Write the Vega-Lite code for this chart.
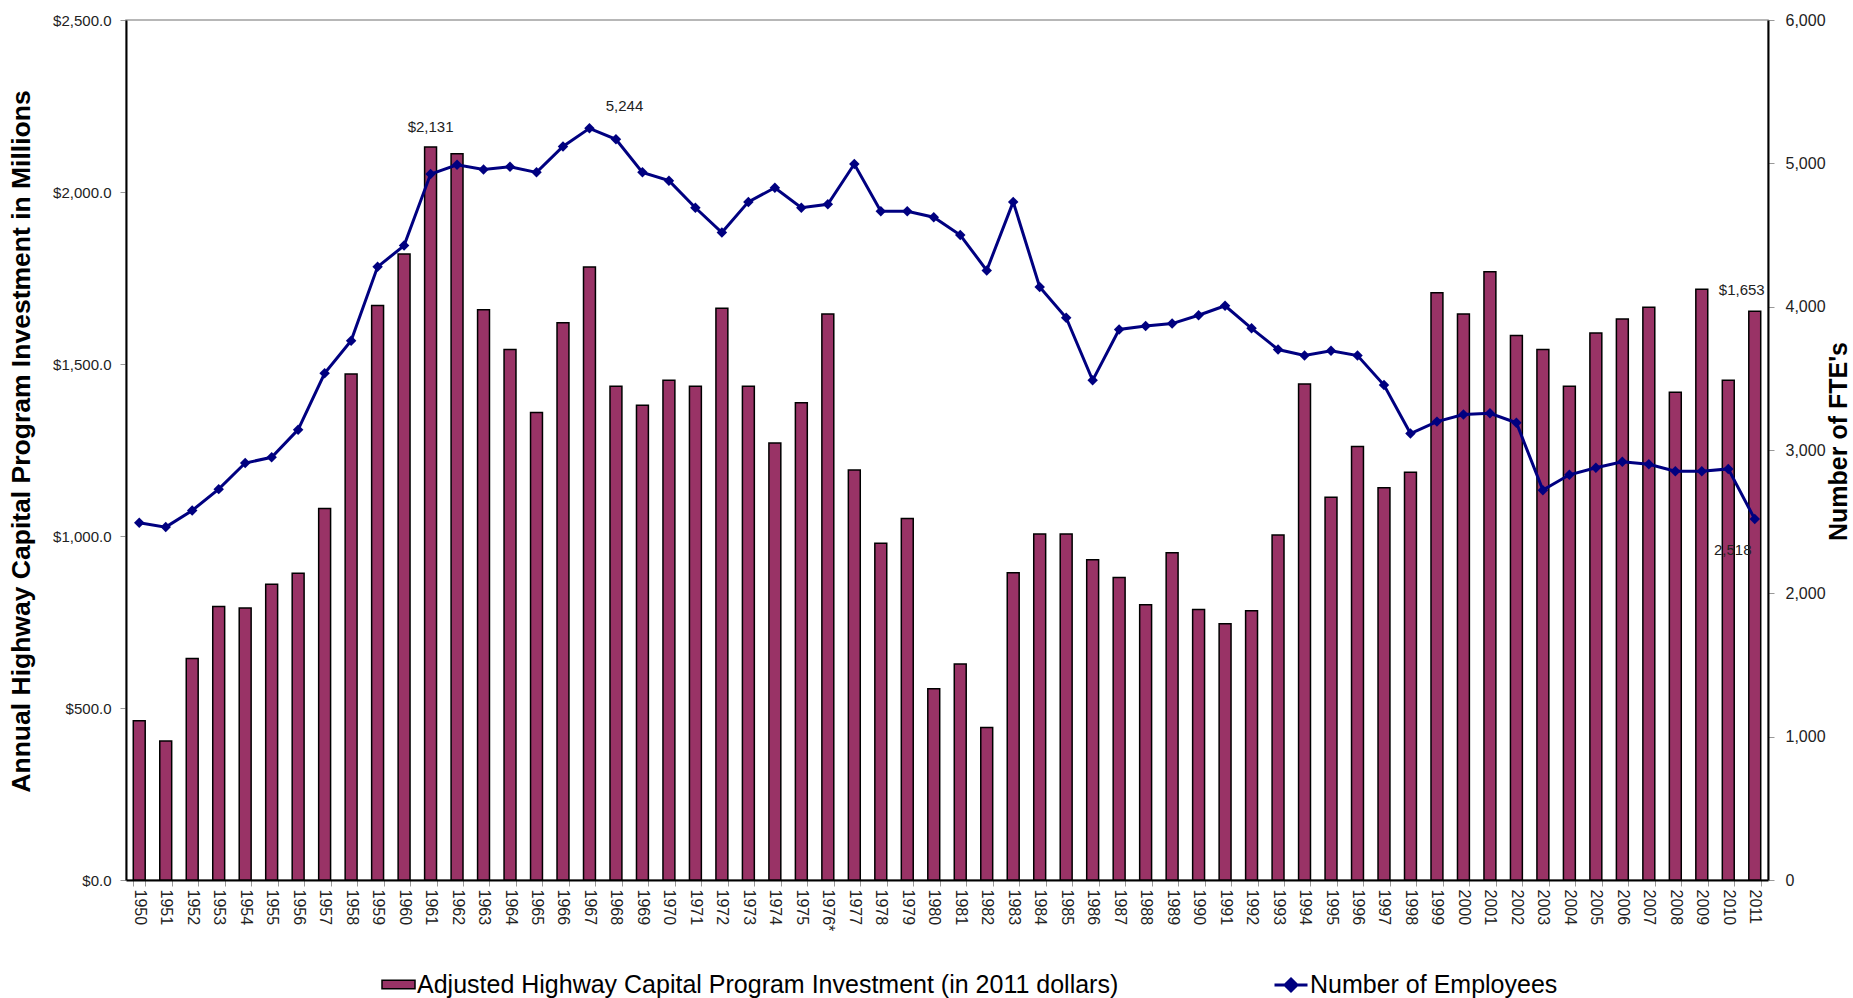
{
  "$schema": "https://vega.github.io/schema/vega-lite/v6.json",
  "autosize": {"type": "none"},
  "width": 1642,
  "height": 860,
  "padding": {"left": 126, "top": 20, "right": 85, "bottom": 118},
  "background": "white",
  "config": {
    "font": "Liberation Sans",
    "view": {"stroke": "#a0a0a0", "strokeWidth": 1.5},
    "axis": {"labelColor": "#222", "titleColor": "#000", "tickColor": "#999", "domainColor": "#000", "domainWidth": 2, "grid": false}
  },
  "data": {"values": [
    {"year": "1950", "invest": 463, "emp": 2492},
    {"year": "1951", "invest": 404, "emp": 2462},
    {"year": "1952", "invest": 644, "emp": 2578},
    {"year": "1953", "invest": 795, "emp": 2727},
    {"year": "1954", "invest": 791, "emp": 2909},
    {"year": "1955", "invest": 860, "emp": 2949},
    {"year": "1956", "invest": 892, "emp": 3142},
    {"year": "1957", "invest": 1080, "emp": 3535},
    {"year": "1958", "invest": 1471, "emp": 3763},
    {"year": "1959", "invest": 1670, "emp": 4278},
    {"year": "1960", "invest": 1820, "emp": 4426},
    {"year": "1961", "invest": 2131, "emp": 4925},
    {"year": "1962", "invest": 2111, "emp": 4990},
    {"year": "1963", "invest": 1658, "emp": 4957},
    {"year": "1964", "invest": 1542, "emp": 4976},
    {"year": "1965", "invest": 1359, "emp": 4937},
    {"year": "1966", "invest": 1620, "emp": 5118},
    {"year": "1967", "invest": 1782, "emp": 5244},
    {"year": "1968", "invest": 1435, "emp": 5168},
    {"year": "1969", "invest": 1380, "emp": 4937},
    {"year": "1970", "invest": 1453, "emp": 4879},
    {"year": "1971", "invest": 1435, "emp": 4690},
    {"year": "1972", "invest": 1662, "emp": 4517},
    {"year": "1973", "invest": 1435, "emp": 4731},
    {"year": "1974", "invest": 1270, "emp": 4830},
    {"year": "1975", "invest": 1387, "emp": 4690},
    {"year": "1976*", "invest": 1645, "emp": 4714},
    {"year": "1977", "invest": 1192, "emp": 4995},
    {"year": "1978", "invest": 979, "emp": 4665},
    {"year": "1979", "invest": 1051, "emp": 4665},
    {"year": "1980", "invest": 556, "emp": 4624},
    {"year": "1981", "invest": 628, "emp": 4500},
    {"year": "1982", "invest": 443, "emp": 4253},
    {"year": "1983", "invest": 893, "emp": 4731},
    {"year": "1984", "invest": 1006, "emp": 4137},
    {"year": "1985", "invest": 1006, "emp": 3923},
    {"year": "1986", "invest": 931, "emp": 3486},
    {"year": "1987", "invest": 879, "emp": 3841},
    {"year": "1988", "invest": 800, "emp": 3865},
    {"year": "1989", "invest": 951, "emp": 3882},
    {"year": "1990", "invest": 786, "emp": 3940},
    {"year": "1991", "invest": 745, "emp": 4006},
    {"year": "1992", "invest": 783, "emp": 3849},
    {"year": "1993", "invest": 1003, "emp": 3701},
    {"year": "1994", "invest": 1442, "emp": 3659},
    {"year": "1995", "invest": 1113, "emp": 3692},
    {"year": "1996", "invest": 1260, "emp": 3659},
    {"year": "1997", "invest": 1140, "emp": 3453},
    {"year": "1998", "invest": 1185, "emp": 3115},
    {"year": "1999", "invest": 1707, "emp": 3198},
    {"year": "2000", "invest": 1645, "emp": 3247},
    {"year": "2001", "invest": 1768, "emp": 3256},
    {"year": "2002", "invest": 1583, "emp": 3190},
    {"year": "2003", "invest": 1542, "emp": 2720},
    {"year": "2004", "invest": 1435, "emp": 2827},
    {"year": "2005", "invest": 1590, "emp": 2876},
    {"year": "2006", "invest": 1631, "emp": 2918},
    {"year": "2007", "invest": 1665, "emp": 2901},
    {"year": "2008", "invest": 1418, "emp": 2852},
    {"year": "2009", "invest": 1717, "emp": 2852},
    {"year": "2010", "invest": 1453, "emp": 2868},
    {"year": "2011", "invest": 1653, "emp": 2518}
  ]},
  "encoding": {
    "x": {
      "field": "year", "type": "ordinal", "sort": null,
      "scale": {"paddingInner": 0.55, "paddingOuter": 0.275},
      "axis": {"title": null, "labelAngle": 90, "labelAlign": "left", "labelBaseline": "middle", "labelFontSize": 16, "labelPadding": 3, "tickSize": 6, "tickBand": "extent", "labelOverlap": false}
    }
  },
  "layer": [
    {
      "encoding": {
        "y": {
          "field": "invest", "type": "quantitative",
          "scale": {"domain": [0, 2500], "nice": false},
          "axis": {"orient": "left", "title": "Annual Highway Capital Program Investment in Millions", "format": "$,.1f", "values": [0, 500, 1000, 1500, 2000, 2500], "labelFontSize": 15, "tickSize": 6, "labelPadding": 9, "titleFontSize": 26.5, "titleFontWeight": "bold", "titleAngle": 270, "titleAlign": "center", "titleBaseline": "middle", "titleX": -105, "titleY": 421}
        }
      },
      "layer": [
        {
          "mark": {"type": "bar", "stroke": "#000", "strokeWidth": 1.5},
          "encoding": {
            "fill": {
              "datum": "Adjusted Highway Capital Program Investment (in 2011 dollars)",
              "scale": {"range": ["#993366"]},
              "legend": {"title": null, "orient": "none", "legendX": 255, "legendY": 947, "labelFontSize": 25, "labelLimit": 1000, "labelColor": "#000", "symbolType": "M-1,-0.26H1V0.26H-1Z", "symbolSize": 1089, "symbolStrokeColor": "#000", "symbolStrokeWidth": 1.5, "labelOffset": 1}
            }
          }
        },
        {
          "transform": [{"filter": "datum.year == '1961'"}],
          "mark": {"type": "text", "fontSize": 15, "dy": -20, "baseline": "middle", "color": "#222"},
          "encoding": {"text": {"field": "invest", "type": "quantitative", "format": "$,.0f"}}
        },
        {
          "transform": [{"filter": "datum.year == '2011'"}],
          "mark": {"type": "text", "fontSize": 15, "dx": -13, "dy": -21, "baseline": "middle", "color": "#222"},
          "encoding": {"text": {"field": "invest", "type": "quantitative", "format": "$,.0f"}}
        }
      ]
    },
    {
      "encoding": {
        "y": {
          "field": "emp", "type": "quantitative",
          "scale": {"domain": [0, 6000], "nice": false},
          "axis": {"orient": "right", "title": "Number of FTE's", "format": ",d", "values": [0, 1000, 2000, 3000, 4000, 5000, 6000], "labelFontSize": 16, "tickSize": 6, "labelPadding": 11, "titleFontSize": 25, "titleFontWeight": "bold", "titleAngle": 270, "titleAlign": "center", "titleBaseline": "middle", "titleX": 70, "titleY": 421}
        }
      },
      "layer": [
        {
          "mark": {"type": "line", "strokeWidth": 3},
          "encoding": {
            "stroke": {
              "datum": "Number of Employees",
              "scale": {"range": ["#000080"]},
              "legend": {"title": null, "orient": "none", "legendX": 1147, "legendY": 947, "labelFontSize": 25, "labelLimit": 1000, "labelColor": "#000", "symbolType": "M-1,0H1M0,-0.36L0.36,0L0,0.36L-0.36,0Z", "symbolSize": 1089, "symbolStrokeWidth": 3, "symbolFillColor": "#000080", "labelOffset": 1}
            }
          }
        },
        {
          "mark": {"type": "point", "shape": "diamond", "filled": true, "size": 110, "color": "#000080", "opacity": 1}
        },
        {
          "transform": [{"filter": "datum.year == '1967'"}],
          "mark": {"type": "text", "fontSize": 15, "dx": 35, "dy": -22, "baseline": "middle", "color": "#222"},
          "encoding": {"text": {"field": "emp", "type": "quantitative", "format": ","}}
        },
        {
          "transform": [{"filter": "datum.year == '2011'"}],
          "mark": {"type": "text", "fontSize": 15, "dx": -22, "dy": 31, "baseline": "middle", "color": "#222"},
          "encoding": {"text": {"field": "emp", "type": "quantitative", "format": ","}}
        }
      ]
    }
  ],
  "resolve": {"scale": {"y": "independent", "fill": "independent", "stroke": "independent"}}
}
